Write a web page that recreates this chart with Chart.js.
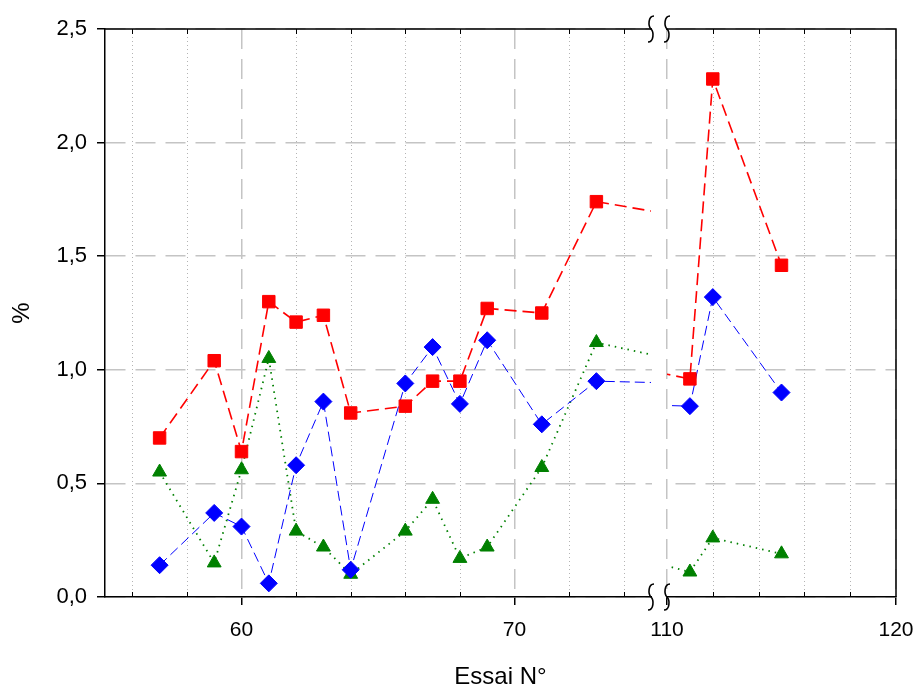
<!doctype html>
<html>
<head>
  <meta charset="utf-8" />
  <title>Essai N°</title>
  <script src="https://cdn.jsdelivr.net/npm/chart.js@4"></script>
  <style>
    html, body { margin: 0; padding: 0; background: #fff; }
    #wrap { width: 916px; height: 689px; }
  </style>
</head>
<body>
<div id="wrap"><canvas id="chart" width="916" height="689"></canvas></div>

<script>
  // essais (axe x coupé entre 75 et 110)
  var essais = [57, 59, 60, 61, 62, 63, 64, 66, 67, 68, 69, 71, 73, 111, 112, 115];
  var serieRouge = [0.70, 1.04, 0.64, 1.30, 1.21, 1.24, 0.81, 0.84, 0.95, 0.95, 1.27, 1.25, 1.74, 0.96, 2.28, 1.46];
  var serieBleue = [0.14, 0.37, 0.31, 0.06, 0.58, 0.86, 0.12, 0.94, 1.10, 0.85, 1.13, 0.76, 0.95, 0.84, 1.32, 0.90];
  var serieVerte = [0.55, 0.15, 0.56, 1.05, 0.29, 0.22, 0.10, 0.29, 0.43, 0.17, 0.22, 0.57, 1.12, 0.11, 0.26, 0.19];

  var xTicks = [56, 58, 60, 62, 64, 66, 68, 70, 72, 74, 110, 112, 114, 116, 118, 120];
  var xLabels = [60, 70, 110, 120];
  var yTicks = [0, 0.5, 1.0, 1.5, 2.0, 2.5];

  // morceaux de l'axe x : [min, max, largeur relative], et largeur de la coupure
  var axeCoupe = { morceaux: [[55, 75, 546], [110, 120, 229]], coupure: 16 };

  // axe x coupé : chaque morceau a sa propre échelle linéaire
  class BrokenScale extends Chart.LinearScale {
    _k() {
      var total = axeCoupe.coupure * (axeCoupe.morceaux.length - 1);
      axeCoupe.morceaux.forEach(function (m) { total += m[2]; });
      return this.width / total;
    }
    _pixelMorceau(i, value) {
      var k = this._k(), pos = this.left, ms = axeCoupe.morceaux;
      for (var j = 0; j < i; j++) pos += (ms[j][2] + axeCoupe.coupure) * k;
      var m = ms[i];
      return pos + (value - m[0]) / (m[1] - m[0]) * m[2] * k;
    }
    _morceau(value) {
      var ms = axeCoupe.morceaux;
      for (var i = 0; i < ms.length - 1; i++) {
        if (value <= ms[i][1]) return i;
      }
      return ms.length - 1;
    }
    getPixelForValue(value) {
      return this._pixelMorceau(this._morceau(value), value);
    }
    getValueForPixel(pixel) {
      var k = this._k(), pos = this.left, ms = axeCoupe.morceaux;
      for (var i = 0; i < ms.length; i++) {
        var m = ms[i], w = m[2] * k;
        if (pixel <= pos + w || i === ms.length - 1) {
          return m[0] + (pixel - pos) / w * (m[1] - m[0]);
        }
        pos += w + axeCoupe.coupure * k;
      }
    }
  }
  BrokenScale.id = 'broken';
  BrokenScale.defaults = Chart.LinearScale.defaults;

  // même axe, mais prolongé tel quel de part et d'autre d'un morceau (pour les lignes qui traversent la coupure)
  class BrokenLeft extends BrokenScale {
    getPixelForValue(value) { return this._pixelMorceau(0, value); }
  }
  BrokenLeft.id = 'brokenLeft';
  BrokenLeft.defaults = Chart.LinearScale.defaults;

  class BrokenRight extends BrokenScale {
    getPixelForValue(value) { return this._pixelMorceau(1, value); }
  }
  BrokenRight.id = 'brokenRight';
  BrokenRight.defaults = Chart.LinearScale.defaults;

  Chart.register(BrokenScale, BrokenLeft, BrokenRight);

  // grille secondaire pointillée, petites graduations, cadre et coupure
  var coupurePlugin = {
    id: 'coupure',
    beforeDatasetsDraw: function (chart) {
      var ctx = chart.ctx, a = chart.chartArea, xs = chart.scales.x;
      var mineurs = xTicks.filter(function (v) { return xLabels.indexOf(v) < 0; });
      ctx.save();
      ctx.strokeStyle = '#b4b4b4';
      ctx.lineWidth = 1;
      ctx.setLineDash([1, 3]);
      ctx.beginPath();
      mineurs.forEach(function (v) {
        var px = Math.round(xs.getPixelForValue(v)) + 0.5;
        ctx.moveTo(px, a.top);
        ctx.lineTo(px, a.bottom);
      });
      ctx.stroke();
      ctx.setLineDash([]);
      ctx.strokeStyle = '#000';
      ctx.beginPath();
      mineurs.forEach(function (v) {
        var px = Math.round(xs.getPixelForValue(v)) + 0.5;
        ctx.moveTo(px, a.bottom);
        ctx.lineTo(px, a.bottom - 5);
        ctx.moveTo(px, a.top);
        ctx.lineTo(px, a.top + 5);
      });
      ctx.stroke();
      ctx.restore();
    },
    beforeDatasetDraw: function (chart, args) {
      var ds = chart.data.datasets[args.index];
      var ctx = chart.ctx, a = chart.chartArea, xs = chart.scales.x;
      var m = axeCoupe.morceaux[ds.morceau];
      var x0 = ds.morceau === 0 ? a.left - 20 : xs.getPixelForValue(m[0]);
      var x1 = ds.morceau === axeCoupe.morceaux.length - 1 ? a.right + 20 : xs.getPixelForValue(m[1]);
      ctx.save();
      ctx.beginPath();
      ctx.rect(x0, a.top - 20, x1 - x0, a.bottom - a.top + 40);
      ctx.clip();
    },
    afterDatasetDraw: function (chart) {
      chart.ctx.restore();
    },
    afterDatasetsDraw: function (chart) {
      var ctx = chart.ctx, a = chart.chartArea, xs = chart.scales.x;
      ctx.save();
      ctx.strokeStyle = '#000';
      ctx.lineWidth = 1.5;
      ctx.beginPath();
      ctx.moveTo(a.left, a.top);
      ctx.lineTo(a.right, a.top);
      ctx.lineTo(a.right, a.bottom);
      ctx.stroke();

      var x0 = xs.getPixelForValue(axeCoupe.morceaux[0][1]);
      var x1 = xs.getPixelForValue(axeCoupe.morceaux[1][0]);
      ctx.fillStyle = '#fff';
      ctx.fillRect(x0 + 1, a.top - 5, x1 - x0 - 2, a.bottom - a.top + 10);

      ctx.lineWidth = 1.6;
      [x0, x1].forEach(function (x) {
        [a.top, a.bottom].forEach(function (y) {
          ctx.beginPath();
          ctx.moveTo(x + 3, y - 13);
          ctx.bezierCurveTo(x - 3, y - 13, x - 3, y - 3, x, y);
          ctx.bezierCurveTo(x + 3, y + 3, x + 3, y + 13, x - 3, y + 13);
          ctx.stroke();
        });
      });
      ctx.restore();
    }
  };

  Chart.defaults.font.family = '"Liberation Sans", Arial, sans-serif';
  Chart.defaults.font.size = 21;
  Chart.defaults.color = '#000';

  function points(serie) {
    return essais.map(function (x, i) { return { x: x, y: serie[i] }; });
  }

  var styles = [
    { serie: serieRouge, color: '#ff0000', borderWidth: 1.6, borderDash: [12, 6], pointStyle: 'rect', pointRadius: 8.8 },
    { serie: serieBleue, color: '#0000ff', borderWidth: 1, borderDash: [10, 5], pointStyle: 'rectRot', pointRadius: 8.5 },
    { serie: serieVerte, color: '#008000', borderWidth: 1.8, borderDash: [1.5, 5], pointStyle: 'triangle', pointRadius: 8 }
  ];
  var datasets = [];
  styles.forEach(function (s) {
    [0, 1].forEach(function (morceau) {
      datasets.push({
        data: points(s.serie),
        morceau: morceau,
        xAxisID: morceau === 0 ? 'xg' : 'xd',
        borderColor: s.color,
        backgroundColor: s.color,
        borderWidth: s.borderWidth,
        borderDash: s.borderDash,
        pointStyle: s.pointStyle,
        pointRadius: s.pointRadius,
        pointBorderWidth: 1,
        tension: 0,
        clip: false
      });
    });
  });

  var ctx = document.getElementById('chart').getContext('2d');
  var chart = new Chart(ctx, {
    type: 'line',
    data: { datasets: datasets },
    options: {
      responsive: false,
      animation: false,
      layout: { padding: { top: 29, right: 20, left: 0, bottom: 0 } },
      plugins: {
        legend: { display: false },
        tooltip: { enabled: false }
      },
      scales: {
        x: {
          type: 'broken',
          min: 55,
          max: 120,
          afterFit: function (s) { s.height = 92; s.paddingLeft = 0; s.paddingRight = 0; },
          afterBuildTicks: function (s) { s.ticks = xTicks.map(function (v) { return { value: v }; }); },
          ticks: {
            autoSkip: false,
            maxRotation: 0,
            padding: 13,
            callback: function (v) { return xLabels.indexOf(v) >= 0 ? String(v) : ''; }
          },
          grid: {
            color: function (c) { return c.tick && xLabels.indexOf(c.tick.value) >= 0 ? '#c4c4c4' : 'rgba(0,0,0,0)'; },
            lineWidth: 1.5,
            tickColor: function (c) { return c.tick && xLabels.indexOf(c.tick.value) >= 0 ? '#000' : 'rgba(0,0,0,0)'; },
            tickLength: 8,
            tickWidth: 1.5
          },
          border: { color: '#000', width: 1.5, dash: [20, 10] },
          title: { display: true, text: 'Essai N°', font: { size: 24, lineHeight: 1 }, padding: { top: 0, bottom: 0 } }
        },
        xg: { type: 'brokenLeft', display: false, min: 55, max: 120 },
        xd: { type: 'brokenRight', display: false, min: 55, max: 120 },
        y: {
          min: 0,
          max: 2.5,
          afterFit: function (s) { s.width = 105; },
          afterBuildTicks: function (s) { s.ticks = yTicks.map(function (v) { return { value: v }; }); },
          ticks: {
            padding: 10,
            font: { size: 22 },
            callback: function (v) { return v.toFixed(1).replace('.', ','); }
          },
          grid: {
            color: '#c4c4c4',
            lineWidth: 1.5,
            tickColor: '#000',
            tickLength: 8,
            tickWidth: 1.5
          },
          border: { color: '#000', width: 1.5, dash: [20, 10] },
          title: { display: true, text: '%', font: { size: 24 }, padding: { top: 8, bottom: 4 } }
        }
      }
    },
    plugins: [coupurePlugin]
  });
</script>
</body>
</html>
